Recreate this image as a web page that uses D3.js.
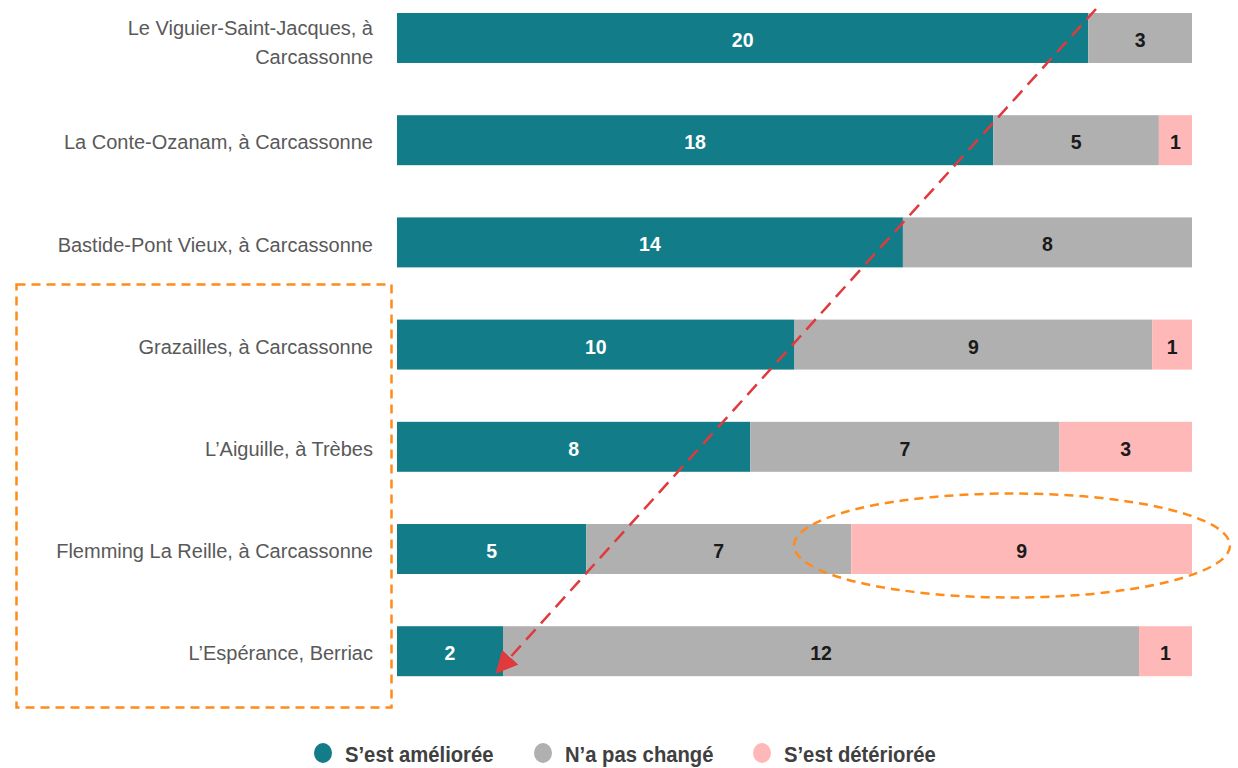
<!DOCTYPE html>
<html>
<head>
<meta charset="utf-8">
<script src="https://cdn.jsdelivr.net/npm/d3@7"></script>
<style>
  html, body { margin: 0; padding: 0; background: #fff; }
  svg { display: block; }
</style>
</head>
<body>
<svg id="chart" width="1238" height="768"></svg>
<script>
// Sites (quartiers) and answer counts per category
const categories = [
  ["Le Viguier-Saint-Jacques, à", "Carcassonne"],
  ["La Conte-Ozanam, à Carcassonne"],
  ["Bastide-Pont Vieux, à Carcassonne"],
  ["Grazailles, à Carcassonne"],
  ["L’Aiguille, à Trèbes"],
  ["Flemming La Reille, à Carcassonne"],
  ["L’Espérance, Berriac"]
];
const seriesNames = ["S’est améliorée", "N’a pas changé", "S’est détériorée"];
const improved   = [20, 18, 14, 10, 8, 5, 2];
const unchanged  = [3, 5, 8, 9, 7, 7, 12];
const worsened   = [0, 1, 0, 1, 3, 9, 1];

const colors = ["#127C88", "#B0B0B0", "#FFB8B8"];
const labelColors = ["#ffffff", "#1a1a1a", "#1a1a1a"];

const svg = d3.select("#chart");

const rows = categories.map((c, i) => ({
  key: i,
  label: c,
  values: [improved[i], unchanged[i], worsened[i]]
}));

// Each bar shows the share of each answer in the site's total
const x = d3.scaleLinear().domain([0, 1]).range([397, 1192]);
const y = d3.scaleBand()
  .domain(rows.map(r => r.key))
  .range([13, 676.2])
  .paddingInner(0.511)
  .paddingOuter(0);

const stackData = rows.map(r => {
  const total = d3.sum(r.values);
  const o = { key: r.key };
  r.values.forEach((v, j) => { o["s" + j] = v / total; });
  return o;
});
const layers = d3.stack().keys(["s0", "s1", "s2"])(stackData);

const g = svg.append("g");

layers.forEach((layer, j) => {
  const lg = g.append("g");
  layer.forEach((d, i) => {
    const v = rows[i].values[j];
    if (v === 0) return;
    const x0 = x(d[0]), x1 = x(d[1]);
    lg.append("rect")
      .attr("x", x0).attr("y", y(i))
      .attr("width", x1 - x0).attr("height", y.bandwidth())
      .attr("fill", colors[j]);
    lg.append("text")
      .attr("x", (x0 + x1) / 2).attr("y", y(i) + y.bandwidth() / 2 + 2)
      .attr("dy", "0.36em")
      .attr("text-anchor", "middle")
      .attr("font-family", "Liberation Sans, Arial, sans-serif")
      .attr("font-weight", "bold")
      .attr("font-size", 19.5)
      .attr("fill", labelColors[j])
      .text(v);
  });
});

// Category labels
rows.forEach((r, i) => {
  const cy = y(i) + y.bandwidth() / 2 + 2;
  const lines = r.label;
  const lh = 29;
  const t = g.append("text")
    .attr("text-anchor", "end")
    .attr("font-family", "Liberation Sans, Arial, sans-serif")
    .attr("font-size", 20)
    .attr("fill", "#595959");
  lines.forEach((ln, k) => {
    t.append("tspan")
      .attr("x", 373)
      .attr("y", cy + (k - (lines.length - 1) / 2) * lh + (lines.length > 1 ? 2 : 0))
      .attr("dy", "0.36em")
      .text(ln);
  });
});

// Legend (slightly condensed bold text)
const legendX = [323, 543, 762];
seriesNames.forEach((name, j) => {
  const lgx = legendX[j];
  svg.append("ellipse")
    .attr("cx", lgx).attr("cy", 753)
    .attr("rx", 9).attr("ry", 10)
    .attr("fill", colors[j]);
  const t = svg.append("text")
    .attr("x", lgx + 22).attr("y", 754)
    .attr("dy", "0.36em")
    .attr("font-family", "Liberation Sans, Arial, sans-serif")
    .attr("font-weight", "bold")
    .attr("font-size", 22)
    .attr("fill", "#404040")
    .text(name);
  const w = t.node().getComputedTextLength();
  t.attr("textLength", w * 0.92).attr("lengthAdjust", "spacingAndGlyphs");
});

// Dashed box around the lower group of sites
svg.append("rect")
  .attr("x", 16.5).attr("y", 284.5)
  .attr("width", 375).attr("height", 423)
  .attr("fill", "none")
  .attr("stroke", "#FF8C1A")
  .attr("stroke-width", 2.5)
  .attr("stroke-dasharray", "9,6");

// Dashed ellipse around the largest "détériorée" segment
svg.append("ellipse")
  .attr("cx", 1012).attr("cy", 545.5)
  .attr("rx", 218).attr("ry", 52)
  .attr("fill", "none")
  .attr("stroke", "#FF8C1A")
  .attr("stroke-width", 2.5)
  .attr("stroke-dasharray", "9,6");

// Dashed trend arrow
svg.append("defs").append("marker")
  .attr("id", "arrowHead")
  .attr("viewBox", "0 0 10 10")
  .attr("refX", 9).attr("refY", 5)
  .attr("markerWidth", 22).attr("markerHeight", 22)
  .attr("markerUnits", "userSpaceOnUse")
  .attr("orient", "auto")
  .append("path")
  .attr("d", "M0,0 L10,5 L0,10 Z")
  .attr("fill", "#E0393E");

svg.append("line")
  .attr("x1", 1096).attr("y1", 9)
  .attr("x2", 497).attr("y2", 672)
  .attr("stroke", "#E0393E")
  .attr("stroke-width", 2.5)
  .attr("stroke-dasharray", "14,8")
  .attr("marker-end", "url(#arrowHead)");
</script>
</body>
</html>
